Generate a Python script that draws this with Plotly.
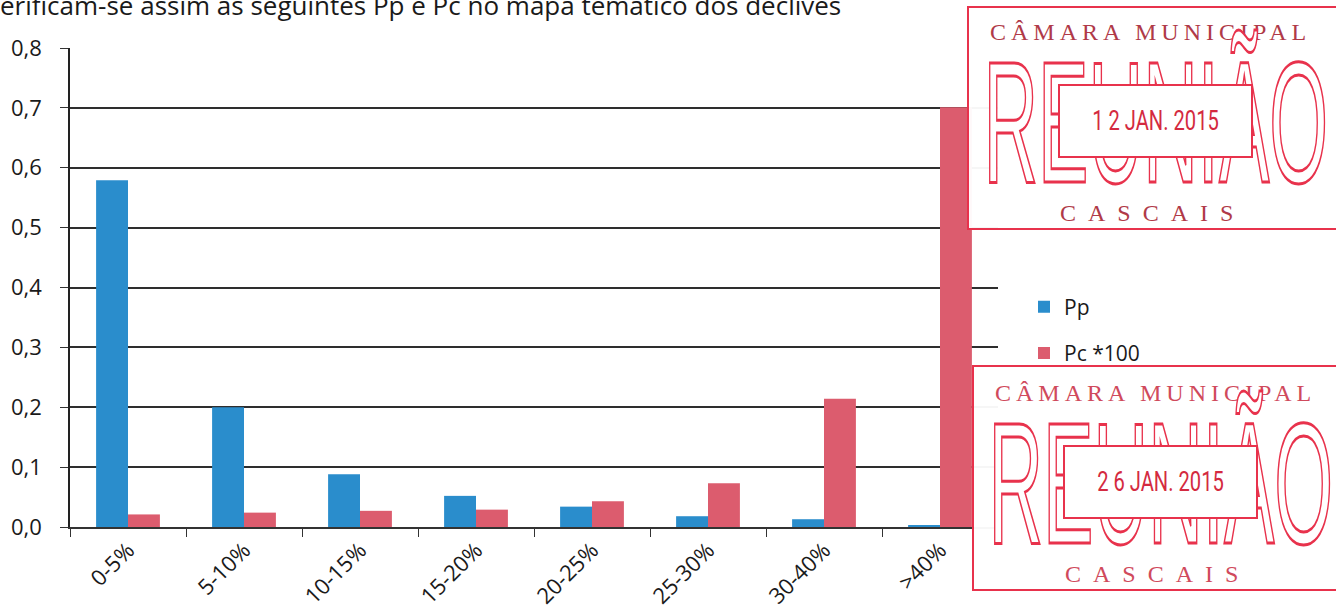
import plotly.graph_objects as go

categories = ["0-5%", "5-10%", "10-15%", "15-20%", "20-25%", "25-30%", "30-40%", ">40%"]
pp_values = [0.579, 0.200, 0.088, 0.052, 0.034, 0.018, 0.013, 0.003]
pc100_values = [0.021, 0.024, 0.027, 0.029, 0.043, 0.073, 0.214, 0.701]
y_ticks = [0.0, 0.1, 0.2, 0.3, 0.4, 0.5, 0.6, 0.7, 0.8]
heading = "erificam-se assim as seguintes Pp e Pc no mapa temático dos declives"
stamp_dates = ["1 2 JAN. 2015", "2 6 JAN. 2015"]

W, H = 1336, 616
L, R, T, B = 70, 338, 48, 89
FONT = "Open Sans, Noto Sans, sans-serif"
STAMP_RED = "#e8324c"

fig = go.Figure()
fig.add_trace(go.Bar(x=categories, y=pp_values, name="Pp", marker_color="#2a8dcc",
                     marker_line_width=0, legendgroup="a"))
fig.add_trace(go.Bar(x=categories, y=pc100_values, name="Pc *100", marker_color="#dc5c6e",
                     marker_line_width=0, legendgroup="b"))

def px_x(p):
    return (p - L) / (W - L - R)

def px_y(p):
    return 1 - (p - T) / (H - T - B)

shapes = []
annotations = []

annotations.append(dict(text=heading, xref="paper", yref="paper", x=px_x(-2), y=px_y(5),
                        xanchor="left", yanchor="middle", showarrow=False,
                        font=dict(family=FONT, size=26, color="#1a1a1a")))

stamps = [
    dict(x0=968, y0=7, y1=229, dx=0, dy=0, date=stamp_dates[0], ctext="#b03a48"),
    dict(x0=973, y0=366, y1=590, dx=5, dy=361, date=stamp_dates[1], ctext="#d04a5c"),
]
for s in stamps:
    shapes.append(dict(type="rect", xref="paper", yref="paper",
                       x0=px_x(s["x0"]), x1=px_x(1345), y0=px_y(s["y1"]), y1=px_y(s["y0"]),
                       line=dict(color=STAMP_RED, width=2), fillcolor="rgba(255,255,255,0.96)",
                       layer="above"))
    dx, dy = s["dx"], s["dy"]
    annotations.append(dict(text="CÂMARA MUNICIPAL", xref="paper", yref="paper",
                            x=px_x(1150 + dx), y=px_y(32 + dy), xanchor="center", yanchor="middle",
                            showarrow=False,
                            font=dict(family="Liberation Serif, DejaVu Serif, serif", size=24,
                                      color=s["ctext"])))
    annotations.append(dict(text="REUNIÃO", xref="paper", yref="paper",
                            x=px_x(1156 + dx), y=px_y(122 + dy), xanchor="center", yanchor="middle",
                            showarrow=False,
                            font=dict(family="Liberation Sans, DejaVu Sans, sans-serif", size=172,
                                      color=STAMP_RED)))
    annotations.append(dict(text=s["date"], xref="paper", yref="paper",
                            x=px_x(1155 + dx), y=px_y(121 + dy), xanchor="center", yanchor="middle",
                            showarrow=False, width=191, height=70,
                            bgcolor="white", bordercolor=STAMP_RED, borderwidth=2, borderpad=0,
                            font=dict(family="Roboto, sans-serif", size=28, color="#d42a40")))
    annotations.append(dict(text="CASCAIS", xref="paper", yref="paper",
                            x=px_x(1152 + dx), y=px_y(213 + dy), xanchor="center", yanchor="middle",
                            showarrow=False,
                            font=dict(family="Liberation Serif, DejaVu Serif, serif", size=24,
                                      color=s["ctext"])))

fig.update_layout(
    width=W, height=H,
    margin=dict(l=L, r=R, t=T, b=B, autoexpand=False),
    paper_bgcolor="white", plot_bgcolor="white",
    separators=", ",
    barmode="group", bargap=0.45, bargroupgap=0.0,
    font=dict(family=FONT, size=21, color="#1a1a1a"),
    showlegend=True,
    legend=dict(x=px_x(1024), y=px_y(330), xanchor="left", yanchor="middle",
                font=dict(family=FONT, size=21, color="#1a1a1a"),
                tracegroupgap=16, itemwidth=30, bgcolor="rgba(0,0,0,0)"),
    shapes=shapes,
    annotations=annotations,
)
fig.update_xaxes(showline=True, linecolor="#333333", linewidth=1.5,
                 ticks="outside", tickson="boundaries", ticklen=8, tickcolor="#333333",
                 tickangle=-45, tickfont=dict(size=22), showgrid=False)
fig.update_yaxes(range=[0, 0.8], tickvals=y_ticks, tickformat=".1f",
                 showline=True, linecolor="#222222", linewidth=1.5,
                 ticks="outside", ticklen=8, tickcolor="#333333",
                 showgrid=True, gridcolor="#2e2e2e", gridwidth=1.6,
                 zeroline=False, ticklabelstandoff=14, tickfont=dict(size=22))

post = """
(function(){
  document.documentElement.style.margin = '0';
  document.body.style.margin = '0';
  document.body.style.padding = '0';
  function fix(){
    document.querySelectorAll('.annotation-text').forEach(function(t){
      var s = t.textContent;
      if (s === 'REUNIÃO') {
        t.style.transformBox = 'fill-box';
        t.style.transformOrigin = 'center';
        t.style.transform = 'scaleX(0.44)';
        t.style.fill = 'white';
        t.style.stroke = '""" + STAMP_RED + """';
        t.style.strokeWidth = '3px';
      } else if (s.indexOf('JAN.') >= 0) {
        t.style.transformBox = 'fill-box';
        t.style.transformOrigin = 'center';
        t.style.transform = 'scaleX(0.72)';
      } else if (s === 'CÂMARA MUNICIPAL') {
        t.style.letterSpacing = '5px';
      } else if (s === 'CASCAIS') {
        t.style.letterSpacing = '12px';
      }
    });
  }
  fix();
  setTimeout(fix, 50);
  setTimeout(fix, 300);
})();
"""
fig.write_html("out.html", post_script=post, config={"displayModeBar": False})
